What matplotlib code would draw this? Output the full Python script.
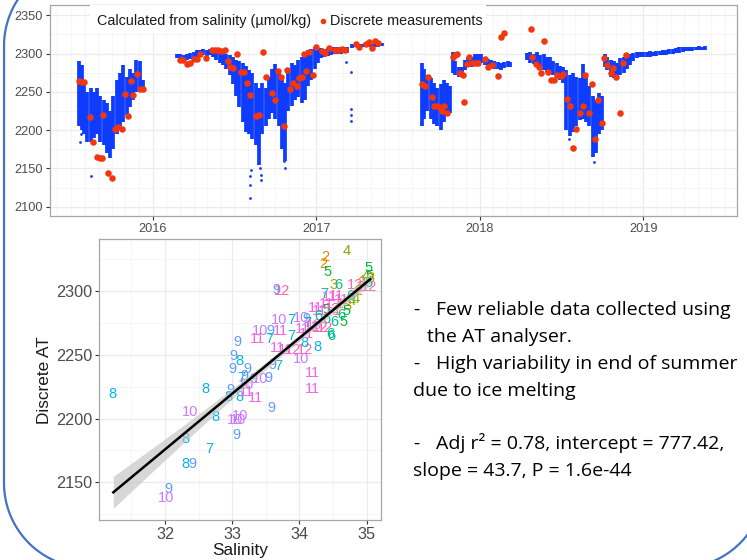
import matplotlib
matplotlib.use("Agg")
import matplotlib.pyplot as plt
import numpy as np
from matplotlib.patches import Rectangle

plt.rcParams["font.family"] = ["Liberation Sans", "DejaVu Sans"]

BLUE = "#0D3BFF"
RED = "#F4360F"
TICK_COLOR = "#4D4D4D"
GRID_MAJOR = "#EBEBEB"
GRID_MINOR = "#F4F4F4"
FRAME = "#A6A6A6"
BORDER = "#4472C4"
MONTH_COLORS = ["#F8766D", "#DE8C00", "#B79F00", "#7CAE00", "#00BA38", "#00C08B",
                "#00BFC4", "#00B4F0", "#619CFF", "#C77CFF", "#F564E3", "#FF64B0"]

# --- top panel: AT calculated from salinity (range of the point cloud per time step)
calc_time = [
    2015.55, 2015.565, 2015.58, 2015.60, 2015.62, 2015.64, 2015.66, 2015.68, 2015.70, 2015.72,
    2015.74, 2015.76, 2015.78, 2015.80, 2015.82, 2015.84, 2015.86, 2015.88, 2015.90, 2015.92, 2015.94,
    2016.15, 2016.17, 2016.19, 2016.21, 2016.23, 2016.25, 2016.27, 2016.29, 2016.31, 2016.33,
    2016.35, 2016.37, 2016.39, 2016.41, 2016.43, 2016.45, 2016.47, 2016.49, 2016.51, 2016.53,
    2016.55, 2016.57, 2016.59, 2016.61, 2016.63, 2016.65, 2016.67, 2016.69, 2016.71, 2016.73,
    2016.75, 2016.77, 2016.79, 2016.81, 2016.83, 2016.85, 2016.87, 2016.89, 2016.91, 2016.93,
    2016.95, 2016.97, 2016.99, 2017.01, 2017.03, 2017.05, 2017.07, 2017.09, 2017.11, 2017.13,
    2017.15, 2017.17, 2017.19,
    2017.22, 2017.24, 2017.26, 2017.28, 2017.30, 2017.32, 2017.34, 2017.36, 2017.38, 2017.40,
    2017.645, 2017.66, 2017.68, 2017.70, 2017.72, 2017.74, 2017.76, 2017.78, 2017.80, 2017.82,
    2017.835, 2017.85, 2017.87, 2017.89, 2017.91, 2017.93, 2017.95, 2017.97, 2017.99, 2018.01,
    2018.03, 2018.05, 2018.07, 2018.09, 2018.11, 2018.13, 2018.15, 2018.17, 2018.185,
    2018.29, 2018.31, 2018.33, 2018.35, 2018.37, 2018.39, 2018.41, 2018.43, 2018.45, 2018.47,
    2018.49, 2018.51, 2018.53, 2018.55, 2018.57, 2018.59, 2018.61, 2018.63, 2018.65, 2018.67,
    2018.69, 2018.71, 2018.73, 2018.75, 2018.765, 2018.78, 2018.80, 2018.82, 2018.84, 2018.86,
    2018.88, 2018.90, 2018.92, 2018.94, 2018.96, 2018.98, 2019.00, 2019.02, 2019.04, 2019.06,
    2019.08, 2019.10, 2019.12, 2019.14, 2019.16, 2019.18, 2019.20, 2019.22, 2019.24, 2019.26,
    2019.28, 2019.30, 2019.32, 2019.34, 2019.36, 2019.38,
]
calc_low = [
    2205, 2200, 2195, 2185, 2185, 2190, 2195, 2185, 2180, 2170,
    2163, 2175, 2195, 2205, 2210, 2220, 2230, 2240, 2250, 2252, 2253,
    2294, 2292, 2290, 2291, 2293, 2294, 2295, 2297, 2298, 2297,
    2298, 2295, 2292, 2288, 2285, 2280, 2272, 2260, 2245, 2230,
    2210, 2198, 2195, 2188, 2180, 2155, 2195, 2205, 2215, 2222,
    2215, 2205, 2175, 2160, 2225, 2232, 2240, 2243, 2235, 2240,
    2258, 2265, 2280, 2288, 2294, 2296, 2297, 2298, 2299, 2300,
    2300, 2301, 2301,
    2307, 2308, 2307, 2308, 2308, 2309, 2308, 2309, 2309, 2310,
    2205, 2215, 2225, 2215, 2208, 2205, 2200, 2210, 2218, 2222,
    2275, 2272, 2270, 2270, 2278, 2282, 2283, 2287, 2289, 2288,
    2285, 2283, 2282, 2280, 2280, 2279, 2281, 2283, 2282,
    2292, 2288, 2286, 2284, 2280, 2278, 2276, 2274, 2272, 2268,
    2266, 2262, 2200, 2193, 2198, 2205, 2213, 2215, 2210, 2205,
    2165, 2170, 2195, 2200, 2283, 2278, 2270, 2268, 2270, 2272,
    2275, 2280, 2285, 2290, 2294, 2295, 2296, 2296, 2296, 2297,
    2297, 2298, 2298, 2298, 2299, 2300, 2301, 2301, 2302, 2303,
    2303, 2303, 2304, 2304, 2304, 2305,
]
calc_high = [
    2290, 2285, 2265, 2250, 2255, 2250, 2255, 2245, 2240, 2235,
    2225, 2245, 2265, 2275, 2285, 2270, 2280, 2275, 2292, 2290, 2265,
    2300, 2299, 2298, 2300, 2301, 2302, 2304, 2305, 2306, 2305,
    2306, 2305, 2304, 2303, 2302, 2300, 2298, 2296, 2292, 2290,
    2288, 2284, 2278, 2275, 2262, 2255, 2262, 2255, 2270, 2280,
    2287, 2280, 2270, 2262, 2280, 2288, 2285, 2292, 2295, 2300,
    2304, 2306, 2308, 2306, 2307, 2306, 2307, 2308, 2308, 2309,
    2308, 2309, 2308,
    2312, 2313, 2312, 2313, 2314, 2314, 2313, 2314, 2315, 2314,
    2288, 2280, 2272, 2268, 2262, 2255, 2260, 2265, 2262, 2258,
    2302, 2290, 2283, 2282, 2292, 2296, 2295, 2299, 2300, 2300,
    2296, 2293, 2292, 2290, 2289, 2288, 2289, 2290, 2289,
    2301, 2302, 2300, 2302, 2298, 2299, 2296, 2295, 2290, 2288,
    2284, 2282, 2278, 2272, 2275, 2270, 2268, 2287, 2275, 2258,
    2245, 2240, 2249, 2245, 2300, 2295, 2292, 2290, 2288, 2294,
    2296, 2298, 2300, 2301, 2302, 2302, 2302, 2302, 2303, 2302,
    2303, 2303, 2304, 2305, 2306, 2306, 2307, 2308, 2308, 2308,
    2309, 2309, 2309, 2310, 2309, 2310,
]
# isolated calculated points outside the main cloud
calc_out_time = [2015.555, 2015.56, 2015.62, 2016.595, 2016.595, 2016.597, 2016.60, 2016.655,
                 2016.66, 2016.662, 2016.80, 2016.81, 2017.18, 2017.21, 2017.21, 2017.21, 2017.21,
                 2018.545, 2018.70, 2018.74]
calc_out_value = [2185, 2195, 2140, 2112, 2128, 2140, 2148, 2150,
                  2135, 2142, 2160, 2150, 2289, 2276, 2228, 2220, 2212,
                  2188, 2158, 2225]

# --- top panel: discrete measurements
disc_time = [
    2015.549, 2015.565, 2015.58, 2015.617, 2015.637, 2015.698, 2015.657, 2015.68, 2015.69, 2015.728,
    2015.751, 2015.77, 2015.79, 2015.81, 2015.83, 2015.847, 2015.867, 2015.88, 2015.906, 2015.92,
    2015.94,
    2016.167, 2016.185, 2016.208, 2016.228, 2016.25, 2016.27, 2016.29, 2016.326, 2016.36, 2016.38,
    2016.40, 2016.42, 2016.44, 2016.459, 2016.473, 2016.49, 2016.517, 2016.538, 2016.558, 2016.575,
    2016.595, 2016.632, 2016.65, 2016.673, 2016.69, 2016.728, 2016.748, 2016.765, 2016.785, 2016.805,
    2016.823, 2016.84, 2016.86, 2016.88, 2016.897, 2016.911, 2016.927, 2016.938, 2016.958, 2016.979,
    2016.997, 2017.034, 2017.054, 2017.078, 2017.115, 2017.133, 2017.156, 2017.176, 2017.243, 2017.264,
    2017.305, 2017.323, 2017.34, 2017.36, 2017.38,
    2017.645, 2017.665, 2017.686, 2017.706, 2017.722, 2017.737, 2017.753, 2017.768, 2017.783, 2017.802,
    2017.835, 2017.849, 2017.86, 2017.88, 2017.896, 2017.906, 2017.92, 2017.935, 2017.957, 2017.98,
    2017.99, 2018.03, 2018.05, 2018.073, 2018.11, 2018.128, 2018.149,
    2018.314, 2018.318, 2018.342, 2018.363, 2018.373, 2018.395, 2018.416, 2018.436, 2018.455, 2018.475,
    2018.497, 2018.51, 2018.532, 2018.552, 2018.572, 2018.587, 2018.61, 2018.63, 2018.646, 2018.668,
    2018.685, 2018.705, 2018.725, 2018.746, 2018.76, 2018.78, 2018.80, 2018.817, 2018.835, 2018.855,
    2018.875, 2018.895,
]
disc_value = [
    2264, 2263, 2263, 2217, 2184, 2220, 2165, 2164, 2164, 2144,
    2138, 2201, 2204, 2201, 2247, 2218, 2264, 2246, 2273, 2254,
    2254,
    2292, 2292, 2286, 2288, 2293, 2293, 2300, 2294, 2305, 2305,
    2304, 2303, 2304, 2290, 2282, 2281, 2299, 2276, 2276, 2262,
    2246, 2218, 2220, 2302, 2269, 2249, 2239, 2277, 2270, 2205,
    2278, 2254, 2262, 2257, 2268, 2269, 2300, 2277, 2302, 2272,
    2308, 2303, 2301, 2307, 2304, 2305, 2306, 2304, 2313, 2309,
    2312, 2315, 2307, 2317, 2314,
    2260, 2257, 2270, 2243, 2232, 2232, 2230, 2225, 2231, 2222,
    2296, 2298, 2299, 2274, 2272, 2237, 2287, 2295, 2288, 2288,
    2288, 2293, 2282, 2285, 2271, 2321, 2327,
    2332, 2296, 2287, 2283, 2275, 2316, 2276, 2266, 2266, 2272,
    2271, 2273, 2241, 2231, 2177, 2201, 2223, 2231, 2272, 2223,
    2260, 2188, 2239, 2209, 2294, 2285, 2275, 2281, 2270, 2223,
    2288, 2298,
]

year_ticks = [2016, 2017, 2018, 2019]

# --- bottom panel: discrete AT vs salinity, labelled by month
sal_month = [
    8, 10, 8, 8, 8, 7, 8, 9, 9, 10,
    9, 9, 8, 9, 9, 7, 9, 9, 10, 9,
    9, 8, 8, 10, 11, 11, 9, 10, 10, 10,
    9, 10, 9, 11, 7, 10, 7, 11, 9, 12,
    11, 12, 12, 11, 9, 7, 10, 11, 11, 8,
    8, 7, 10, 9, 7, 11, 11, 12, 10, 11,
    11, 6, 7, 2, 2, 5, 4, 3, 6, 11,
    11, 11, 12, 1, 6, 12, 12, 6, 6, 6,
    5, 6, 5, 4, 4, 3, 5, 6, 1, 12,
    1, 3, 4, 5, 5, 6, 3, 12, 2, 1,
    11,
]
sal_value = [
    31.22, 32.37, 32.60, 32.31, 32.75, 32.66, 32.30, 32.41, 32.05, 32.02,
    33.07, 33.02, 33.10, 33.00, 33.23, 33.13, 33.18, 33.31, 33.41, 33.54,
    32.97, 32.95, 33.10, 33.20, 33.21, 33.34, 33.59, 33.04, 33.12, 33.08,
    33.06, 33.41, 33.57, 33.38, 33.55, 33.69, 33.88, 33.71, 33.65, 33.74,
    33.67, 33.91, 34.08, 33.79, 33.60, 33.69, 34.03, 34.19, 34.19, 34.08,
    34.27, 33.88, 34.03, 34.10, 34.12, 34.05, 34.10, 34.18, 34.22, 34.23,
    34.30, 34.28, 34.37, 34.38, 34.36, 34.41, 34.70, 34.50, 34.58, 34.45,
    34.55, 34.62, 34.48, 34.55, 34.40, 34.31, 34.38, 34.46, 34.48, 34.52,
    34.65, 34.62, 34.40, 34.78, 34.83, 34.72, 34.70, 34.75, 34.90, 34.82,
    34.95, 34.93, 34.98, 35.02, 35.04, 35.02, 35.05, 35.03, 34.88, 34.60,
    34.40,
]
at_value = [
    2219, 2205, 2223, 2184, 2201, 2176, 2164, 2164, 2145, 2138,
    2260, 2249, 2245, 2239, 2239, 2232, 2233, 2231, 2231, 2232,
    2222, 2217, 2217, 2226, 2221, 2216, 2208, 2199, 2202, 2199,
    2187, 2269, 2269, 2262, 2262, 2277, 2277, 2269, 2301, 2300,
    2255, 2254, 2254, 2254, 2242, 2241, 2247, 2236, 2223, 2259,
    2256, 2265, 2279, 2278, 2275, 2270, 2266, 2272, 2273, 2287,
    2284, 2280, 2298, 2327, 2321, 2315, 2331, 2305, 2305, 2295,
    2296, 2293, 2286, 2284, 2278, 2271, 2271, 2266, 2265, 2276,
    2276, 2281, 2285, 2292, 2294, 2288, 2284, 2296, 2303, 2305,
    2308, 2306, 2312, 2318, 2312, 2306, 2310, 2303, 2300, 2290,
    2290,
]

# linear fit reported on the slide, and the half width of its confidence band
fit_intercept = 777.42
fit_slope = 43.7
band_salinity = [31.23, 31.5, 31.75, 32.0, 32.25, 32.5, 32.75, 33.0, 33.25, 33.5, 33.75, 34.0, 34.25, 34.5, 34.75, 35.05]
band_half = [12.5, 11.0, 9.6, 8.3, 7.0, 5.9, 4.8, 4.0, 3.3, 2.8, 2.6, 2.5, 2.7, 3.1, 3.7, 4.6]

# slide notes: (bullet dash, text, baseline in pixels from the top)
notes = [
    ("-", "Few reliable data collected using", 315),
    ("", "the AT analyser.", 342),
    ("-", "High variability in end of summer", 369),
    ("", "due to ice melting", 396.5),
    ("-", "Adj r\u00b2 = 0.78, intercept = 777.42,", 449),
    ("", "slope = 43.7, P = 1.6e-44", 476),
]
note_indent = [436, 427, 436, 413, 436, 413]


def style_axes(ax, tick_size):
    for spine in ax.spines.values():
        spine.set_color(FRAME)
        spine.set_linewidth(0.9)
    ax.tick_params(which="major", length=3, width=0.8, color="#333333",
                   labelcolor=TICK_COLOR, labelsize=tick_size, pad=2)
    ax.tick_params(which="minor", length=0)
    ax.grid(True, which="major", color=GRID_MAJOR, linewidth=0.9)
    ax.grid(True, which="minor", color=GRID_MINOR, linewidth=0.6)
    ax.set_axisbelow(True)


def draw_border(fig):
    # slide frame: rounded rectangle that runs mostly outside the picture, drawn in pixels
    bx = fig.add_axes([0, 0, 1, 1], zorder=10)
    bx.set_xlim(0, 747)
    bx.set_ylim(560, 0)
    bx.axis("off")
    left, right, top, bottom, r = 4, 765, -39, 568, 85
    corners = [(right - r, top + r, -90, 0), (right - r, bottom - r, 0, 90),
               (left + r, bottom - r, 90, 180), (left + r, top + r, 180, 270)]
    xs, ys = [], []
    for cx, cy, a0, a1 in corners:
        ang = np.radians(np.linspace(a0, a1, 40))
        xs.extend(cx + r * np.cos(ang))
        ys.extend(cy + r * np.sin(ang))
    xs.append(xs[0])
    ys.append(ys[0])
    bx.plot(xs, ys, color=BORDER, linewidth=1.6, clip_on=True)


def main():
    fig = plt.figure(figsize=(7.47, 5.6), dpi=100)

    # top time series
    ax1 = fig.add_axes([50 / 747, 1 - 216 / 560, 687 / 747, 210.7 / 560])
    ax1.vlines(calc_time, calc_low, calc_high, color=BLUE, linewidth=2.7, zorder=2)
    ax1.scatter(calc_out_time, calc_out_value, s=4, color=BLUE, linewidths=0, zorder=2)
    ax1.scatter(disc_time, disc_value, s=22, color=RED, linewidths=0, zorder=3)
    ax1.set_xlim(2015.372, 2019.573)
    ax1.set_ylim(2087.9, 2363)
    ax1.set_xticks(year_ticks)
    ax1.set_xticklabels([str(y) for y in year_ticks])
    ax1.set_xticks([y + m / 12 for y in range(2015, 2020) for m in range(12)
                    if 2015.372 < y + m / 12 < 2019.573 and m != 0], minor=True)
    ax1.set_yticks(list(range(2100, 2351, 50)))
    ax1.set_yticks(list(range(2125, 2351, 50)), minor=True)
    style_axes(ax1, 9.2)

    # legend drawn on a white strip as in the slide
    ax1.add_patch(Rectangle((0.058, 0.87), 0.577, 0.13, transform=ax1.transAxes,
                            facecolor="white", edgecolor="none", zorder=4))
    ax1.text(0.0684, 0.925, "Calculated from salinity (\u00b5mol/kg)", transform=ax1.transAxes,
             fontsize=10.4, va="center", color="#1A1A1A", zorder=5)
    ax1.scatter([0.397], [0.927], s=16, color=RED, linewidths=0, transform=ax1.transAxes, zorder=5)
    ax1.text(0.4076, 0.925, "Discrete measurements", transform=ax1.transAxes,
             fontsize=10.4, va="center", color="#1A1A1A", zorder=5)

    # bottom scatter
    ax2 = fig.add_axes([99.3 / 747, 40 / 560, 281.4 / 747, 280.7 / 560])
    for m, s, a in zip(sal_month, sal_value, at_value):
        ax2.text(s, a, str(m), color=MONTH_COLORS[m - 1], fontsize=10.5,
                 ha="center", va="center", zorder=2)
    fit_band = [fit_intercept + fit_slope * s for s in band_salinity]
    ax2.fill_between(band_salinity,
                     [f - h for f, h in zip(fit_band, band_half)],
                     [f + h for f, h in zip(fit_band, band_half)],
                     color="#BDBDBD", alpha=0.6, linewidth=0, zorder=3)
    ax2.plot(band_salinity, fit_band, color="black", linewidth=1.8, zorder=4)
    ax2.set_xlim(31.022, 35.208)
    ax2.set_ylim(2120.5, 2340.5)
    ax2.set_xticks([32, 33, 34, 35])
    ax2.set_xticks([31.5, 32.5, 33.5, 34.5], minor=True)
    ax2.set_yticks([2150, 2200, 2250, 2300])
    ax2.set_yticks([2125, 2175, 2225, 2275, 2325], minor=True)
    style_axes(ax2, 11.7)
    ax2.set_xlabel("Salinity", fontsize=12.4, color="#1A1A1A", labelpad=1)
    ax2.set_ylabel("Discrete AT", fontsize=12.4, color="#1A1A1A", labelpad=3)

    # notes on the right
    for (dash, line, y), x in zip(notes, note_indent):
        if dash:
            fig.text(413 / 747, 1 - y / 560, dash, fontsize=14, family="Open Sans", va="baseline")
        fig.text(x / 747, 1 - y / 560, line, fontsize=14, family="Open Sans", va="baseline")

    draw_border(fig)

    fig.savefig("out.png", dpi=100)


if __name__ == "__main__":
    main()
